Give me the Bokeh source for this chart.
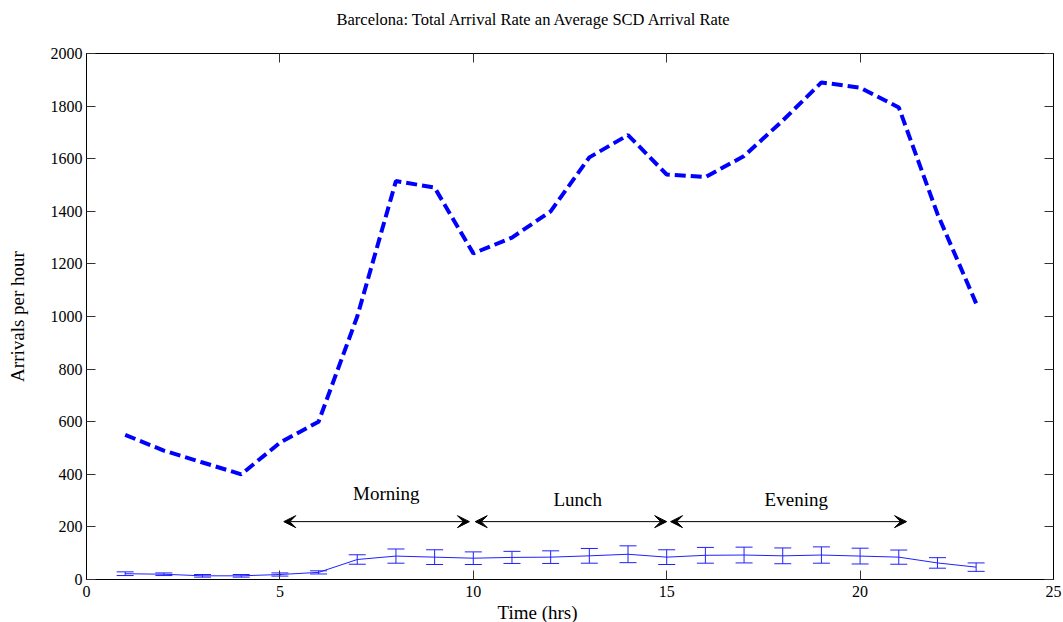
from bokeh.plotting import figure
from bokeh.models import (Range1d, LinearAxis, FixedTicker, Whisker, TeeHead, Arrow,
                          VeeHead, Title, ColumnDataSource)
from bokeh.core.properties import value
from bokeh.embed import file_html
from bokeh.resources import INLINE

FONT = "Liberation Serif"

# ---- data ----
hours = [1, 2, 3, 4, 5, 6, 7, 8, 9, 10, 11, 12, 13, 14, 15, 16, 17, 18, 19, 20, 21, 22, 23]
total_rate = [550, 490, 445, 400, 520, 600, 1000, 1515, 1490, 1240, 1300, 1400, 1605,
              1690, 1540, 1530, 1610, 1745, 1890, 1870, 1795, 1390, 1050]
scd_mean = [22, 20, 14, 14, 19, 27, 76, 89, 85, 81, 84, 85, 90, 96, 85, 92, 93, 90,
            93, 89, 85, 63, 47]
scd_err = [7, 5, 5, 5, 6, 6, 18, 27, 28, 24, 23, 24, 28, 32, 28, 30, 30, 30, 31, 30,
           27, 20, 16]

periods = ["Morning", "Lunch", "Evening"]
period_start = [5.1, 10.05, 15.1]
period_end = [9.9, 15.0, 21.2]
arrow_y = 220
period_label_x = [7.75, 12.7, 18.35]
period_label_y = [327, 304, 304]

x_ticks = [0, 5, 10, 15, 20, 25]
y_ticks = [0, 200, 400, 600, 800, 1000, 1200, 1400, 1600, 1800, 2000]

title_text = "Barcelona: Total Arrival Rate an Average SCD Arrival Rate"
x_label = "Time (hrs)"
y_label = "Arrivals per hour"

# ---- figure ----
p = figure(width=1063, height=622, output_backend="svg", toolbar_location=None,
           x_range=Range1d(0, 25), y_range=Range1d(0, 2000),
           min_border_left=86, min_border_right=10, min_border_top=53, min_border_bottom=43,
           x_axis_location=None, y_axis_location=None)
p.xgrid.visible = False
p.ygrid.visible = False
p.outline_line_color = "black"
p.background_fill_color = "white"
p.border_fill_color = "white"


def style_axis(ax, ticks, labels=True):
    ax.ticker = FixedTicker(ticks=ticks)
    ax.major_tick_in = 9
    ax.major_tick_out = 0
    ax.minor_tick_line_color = None
    ax.axis_line_color = "black"
    ax.major_tick_line_color = "#333333"
    ax.major_label_text_font = FONT
    ax.major_label_text_font_size = "16px"
    ax.major_label_text_color = "black"
    ax.major_label_standoff = 4
    if not labels:
        ax.major_label_overrides = {t: "" for t in ticks}
        ax.major_label_standoff = 0


# mirror axes (ticks only) on top and right
xt = LinearAxis()
style_axis(xt, x_ticks, labels=False)
p.add_layout(xt, "above")
yr = LinearAxis()
style_axis(yr, y_ticks, labels=False)
p.add_layout(yr, "right")

xb = LinearAxis()
style_axis(xb, x_ticks)
xb.major_label_standoff = 6
p.add_layout(xb, "below")
yl = LinearAxis(axis_label=y_label)
style_axis(yl, y_ticks)
yl.axis_label_standoff = 20
yl.axis_label_text_font = FONT
yl.axis_label_text_font_style = "normal"
yl.axis_label_text_font_size = "19px"
yl.axis_label_text_color = "black"
p.add_layout(yl, "left")

p.add_layout(Title(text=x_label, text_font=FONT, text_font_size="19px",
                   text_font_style="normal", text_color="black",
                   align="left", offset=411, standoff=0),
             "below")
p.title.text = title_text
p.title.text_font = FONT
p.title.text_font_size = "16.5px"
p.title.text_font_style = "normal"
p.title.text_color = "black"
p.title.align = "left"
p.title.offset = 250
p.title.standoff = 0
p.title.padding = dict(left=0, right=0, top=0, bottom=25)

# total arrival rate (dashed)
p.line(hours, total_rate, line_color="#0000FF", line_width=4, line_dash="11 5")

# SCD average with error bars
src = ColumnDataSource(dict(x=hours, y=scd_mean,
                            lo=[m - e for m, e in zip(scd_mean, scd_err)],
                            hi=[m + e for m, e in zip(scd_mean, scd_err)]))
p.line("x", "y", source=src, line_color="#2020FF", line_width=1)
w = Whisker(base="x", upper="hi", lower="lo", source=src, dimension="height",
            line_color="#2020FF", line_width=1,
            upper_head=TeeHead(size=17, line_color="#2020FF", line_width=1),
            lower_head=TeeHead(size=17, line_color="#2020FF", line_width=1),
            level="glyph")
p.add_layout(w)

# period arrows
for s, e in zip(period_start, period_end):
    p.add_layout(Arrow(x_start=s, y_start=arrow_y, x_end=e, y_end=arrow_y,
                       line_color="black", line_width=1,
                       start=VeeHead(size=12, fill_color="black", line_color="black"),
                       end=VeeHead(size=12, fill_color="black", line_color="black")))

p.text(x=period_label_x, y=period_label_y, text=periods, text_font=value(FONT),
       text_font_size="19px", text_align="center", text_baseline="middle",
       text_color="black")

open("out.html", "w").write(file_html(p, INLINE))
